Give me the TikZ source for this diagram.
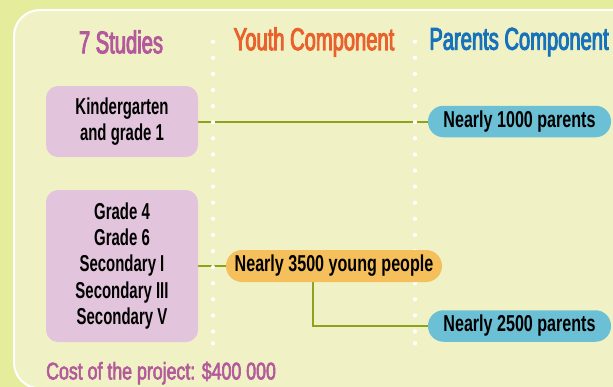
\documentclass[tikz,border=0pt]{standalone}
\usepackage{fontspec}
\newfontfamily\headfont{Liberation Sans}[FakeStretch=0.64,FakeBold=3]
\newfontfamily\bodyfont{Liberation Sans}[FakeStretch=0.65]
\newfontfamily\pillfont{Liberation Sans}[FakeStretch=0.70]
\newfontfamily\costfont{Liberation Sans}[FakeStretch=0.74,FakeBold=2.5]
\definecolor{outerbg}{HTML}{E5EC9B}
\definecolor{panelbg}{HTML}{F0F2C5}
\definecolor{lav}{HTML}{E2C4DC}
\definecolor{pillblue}{HTML}{6CC0D5}
\definecolor{pillorange}{HTML}{F5BF5C}
\definecolor{olive}{HTML}{8EA31D}
\definecolor{purp}{HTML}{B45A9C}
\definecolor{orng}{HTML}{E9612C}
\definecolor{blu}{HTML}{1672BB}
\pgfdeclarelayer{back}
\pgfdeclarelayer{mid}
\pgfsetlayers{back,mid,main}
\tikzset{
  heading/.style={font=\headfont\fontsize{31.5}{34}\selectfont, inner sep=0pt},
  studybox/.style={rectangle, rounded corners=12pt, fill=lav, minimum width=152pt, inner sep=0pt, align=center, font=\bodyfont\bfseries\fontsize{23}{26.2}\selectfont},
  pill/.style={rectangle, rounded corners=15.5pt, minimum width=183pt, minimum height=31.5pt, inner sep=0pt, font=\pillfont\bfseries\fontsize{23}{26}\selectfont},
  conn/.style={draw=olive, line width=2pt},
  dot/.style={fill=white}
}
\begin{document}
\begin{tikzpicture}[x=1pt,y=-1pt]
\useasboundingbox (0,0) rectangle (613,386);
\begin{pgfonlayer}{back}
\clip (0,0) rectangle (613,386);
\fill[outerbg] (-5,-5) rectangle (620,400);
\draw[white, line width=2pt, fill=panelbg, rounded corners=26pt] (14,10) rectangle (660,388.5);
\end{pgfonlayer}
% headings
\node[heading, text=purp] (h1) at (121,42) {7 Studies};
\node[heading, text=orng] (h2) at (314,42) {Youth Component};
\node[heading, text=blu] (h3) at (519,42) {Parents Component};
% nodes
\node[studybox, minimum height=71pt] (b1) at (122,121.5) {Kindergarten\\and grade 1};
\node[studybox, minimum height=152pt] (b2) at (122,266) {Grade 4\\Grade 6\\Secondary I\\Secondary III\\Secondary V};
\node[pill, fill=pillorange, minimum width=216pt, minimum height=32pt, rounded corners=16pt] (y1) at (334,266) {Nearly 3500 young people};
\node[pill, fill=pillblue] (p1) at (519.5,121.5) {Nearly 1000 parents};
\node[pill, fill=pillblue] (p2) at (519.5,326) {Nearly 2500 parents};
% cost
\node[anchor=west, inner sep=0pt, text=purp, font=\costfont\fontsize{24}{26}\selectfont] (cost) at (46,373) {Cost of the project: \$400 000};
% connectors
\begin{pgfonlayer}{back}
\draw[conn] (b1.east) -- (p1.west);
\draw[conn] (b2.east) -- (y1.west);
\draw[conn] ([xshift=-21pt]y1.south) |- (p2.west);
\end{pgfonlayer}
% dotted separators
\begin{pgfonlayer}{mid}
\foreach \i in {0,...,18} {
  \fill[dot] (213,41.7+16.1*\i) circle (2.1pt);
  \fill[dot] (415,41.7+16.1*\i) circle (2.1pt);
}
\fill[dot] (213,343.3) circle (2.1pt);
\fill[dot] (415,343.3) circle (2.1pt);
\end{pgfonlayer}
\end{tikzpicture}
\end{document}
